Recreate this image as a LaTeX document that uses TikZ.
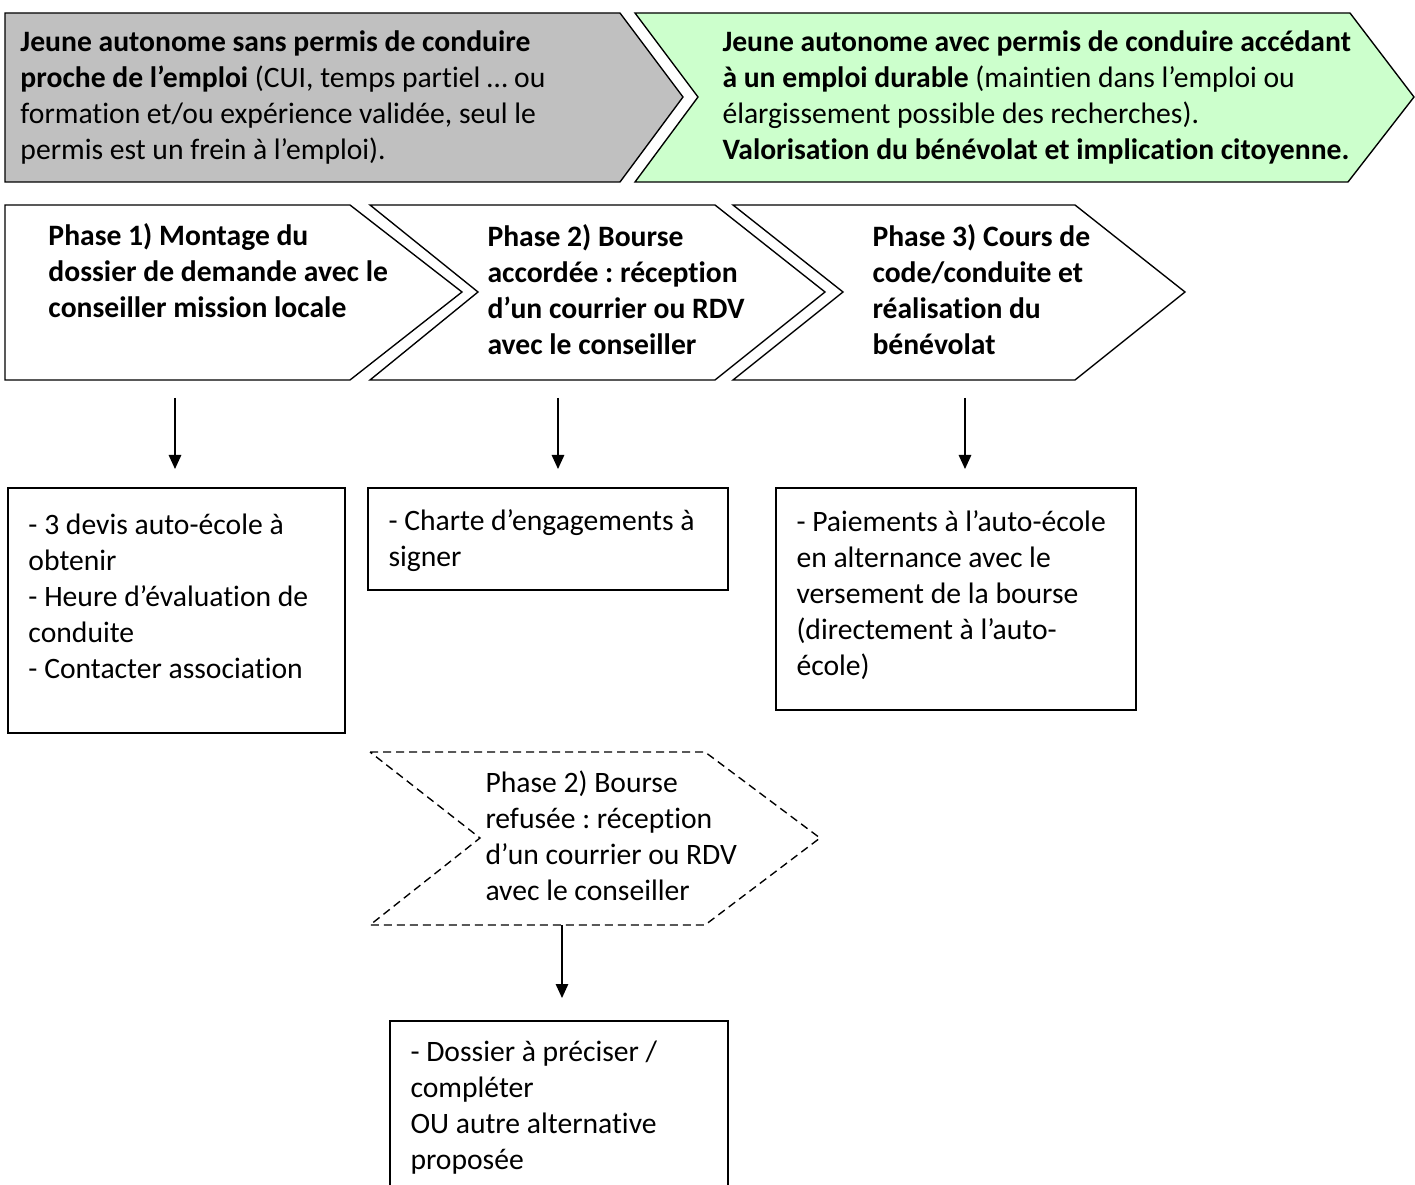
\documentclass[tikz,border=0pt]{standalone}
\usepackage{fontspec}
\setmainfont{Carlito}[Ligatures=NoCommon]
\usepackage{xcolor}
\usetikzlibrary{positioning}
\usetikzlibrary{arrows.meta}

\definecolor{greyarrow}{HTML}{C0C0C0}
\definecolor{greenarrow}{HTML}{CCFFCC}
\frenchspacing

\begin{document}
\begin{tikzpicture}[x=0.4pt, y=-0.4pt,
    outline/.style={draw=black, line width=0.55pt, line join=miter},
    txt/.style={align=left, inner sep=0pt, anchor=west, font=\fontsize{11.85}{14.4}\selectfont},
    arr/.style={-{Triangle[length=5.6pt, width=5pt]}, line width=0.55pt}]
    \useasboundingbox (0,0) rectangle (1415,1185);

    % top chevrons
    \draw[outline, fill=greyarrow] (5,13) -- (620,13) -- (683,97) -- (620,182) -- (5,182) -- cycle;
    \draw[outline, fill=greenarrow] (635,13) -- (1350,13) -- (1414,97) -- (1348,182) -- (635,182) -- (698,97) -- cycle;
    \node[txt] (Start) at (20,97) {\textbf{Jeune autonome sans permis de conduire}\\
        \textbf{proche de l’emploi} (CUI, temps partiel … ou\\
        formation et/ou expérience validée, seul le\\
        permis est un frein à l’emploi).};
    \node[txt] (Goal) at (722,97) {\textbf{Jeune autonome avec permis de conduire accédant}\\
        \textbf{à un emploi durable} (maintien dans l’emploi ou\\
        élargissement possible des recherches).\\
        \textbf{Valorisation du bénévolat et implication citoyenne.}};

    % phases
    \draw[outline] (5,205) -- (350,205) -- (462,292) -- (350,380) -- (5,380) -- cycle;
    \draw[outline] (370,205) -- (715,205) -- (825,292) -- (715,380) -- (370,380) -- (478,292) -- cycle;
    \draw[outline] (733,205) -- (1075,205) -- (1185,292) -- (1075,380) -- (733,380) -- (843,292) -- cycle;
    \node[txt] (Ph1) at (48,271) {\textbf{Phase 1) Montage du}\\
        \textbf{dossier de demande avec le}\\
        \textbf{conseiller mission locale}};
    \node[txt] (Ph2) at (487,290) {\textbf{Phase 2) Bourse}\\
        \textbf{accordée : réception}\\
        \textbf{d’un courrier ou RDV}\\
        \textbf{avec le conseiller}};
    \node[txt] (Ph3) at (872,290) {\textbf{Phase 3) Cours de}\\
        \textbf{code/conduite et}\\
        \textbf{réalisation du}\\
        \textbf{bénévolat}};

    % refused phase
    \draw[outline, dash pattern=on 3.2pt off 2pt] (370,752) -- (705,752) -- (820,838) -- (705,925) -- (370,925) -- (480,838) -- cycle;
    \node[txt] (Ph2R) at (485,836) {Phase 2) Bourse\\
        refusée : réception\\
        d’un courrier ou RDV\\
        avec le conseiller};

    % boxes
    \draw[outline] (8,488) rectangle (345,733);
    \draw[outline] (368,488) rectangle (728,590);
    \draw[outline] (776,488) rectangle (1136,710);
    \draw[outline] (390,1186) -- (390,1021) -- (728,1021) -- (728,1186);
    \node[txt] (Todo1) at (28,596) {- 3 devis auto-école à\\
        obtenir\\
        - Heure d’évaluation de\\
        conduite\\
        - Contacter association};
    \node[txt] (Todo2) at (388,541) {- Charte d’engagements à\\
        signer};
    \node[txt] (Todo3) at (796,595) {- Paiements à l’auto-école\\
        en alternance avec le\\
        versement de la bourse\\
        (directement à l’auto-\\
        école)};
    \node[txt] (TodoR) at (410,1108) {- Dossier à préciser /\\
        compléter\\
        OU autre alternative\\
        proposée};

    % arrows
    \coordinate (A1) at (175,398);
    \coordinate (B1) at (175,469);
    \coordinate (A2) at (558,398);
    \coordinate (B2) at (558,469);
    \coordinate (A3) at (965,398);
    \coordinate (B3) at (965,469);
    \coordinate (AR) at (562,925);
    \coordinate (BR) at (562,998);
    \draw[arr] (A1) -- (B1);
    \draw[arr] (A2) -- (B2);
    \draw[arr] (A3) -- (B3);
    \draw[arr] (AR) -- (BR);
\end{tikzpicture}
\end{document}
